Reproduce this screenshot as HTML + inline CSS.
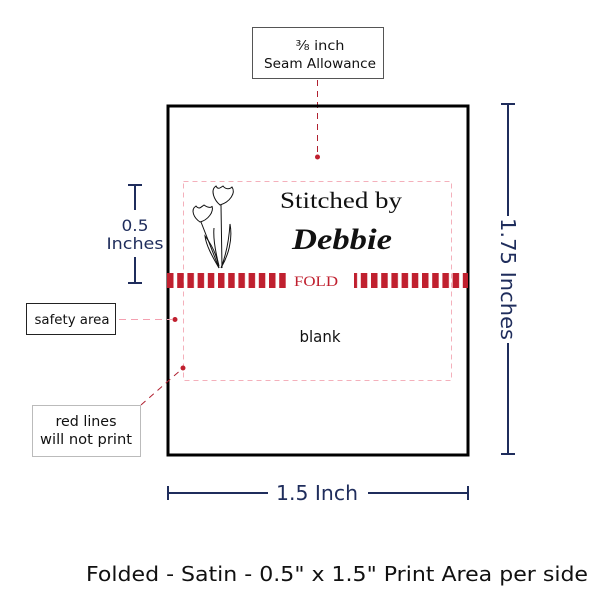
<!DOCTYPE html>
<html><head><style>body{margin:0;background:#fff}svg{display:block}</style></head>
<body>
<svg width="600" height="600" viewBox="0 0 600 600" xmlns="http://www.w3.org/2000/svg" font-family="DejaVu Sans, Liberation Sans, sans-serif">
<defs>
<pattern id="st" x="167" y="0" width="10.2" height="20" patternUnits="userSpaceOnUse"><rect x="0" y="0" width="6.5" height="20" fill="#c0202f"/></pattern>
</defs>
<!-- seam allowance box -->
<rect x="252.5" y="27.5" width="131" height="51" fill="#fff" stroke="#555" stroke-width="1"/>
<text x="320" y="50" font-size="13" text-anchor="middle" fill="#111" textLength="49" lengthAdjust="spacingAndGlyphs">⅜ inch</text>
<text x="320" y="68" font-size="13" text-anchor="middle" fill="#111" textLength="112" lengthAdjust="spacingAndGlyphs">Seam Allowance</text>
<line x1="317.5" y1="80" x2="317.5" y2="156" stroke="#b02030" stroke-width="1" stroke-dasharray="6,5"/>
<circle cx="317.5" cy="157" r="2.5" fill="#c0202f"/>
<!-- main rect -->
<rect x="168" y="106" width="300" height="349" fill="none" stroke="#000" stroke-width="3"/>
<!-- safety dashed -->
<rect x="183.5" y="181.5" width="268" height="199" fill="none" stroke="#f4b0bb" stroke-width="1" stroke-dasharray="5,4"/>
<!-- fold stripes -->
<rect x="167" y="273" width="122" height="15" fill="url(#st)"/>
<rect x="354" y="273" width="114" height="15" fill="url(#st)"/>
<text x="316" y="286" font-size="15" text-anchor="middle" fill="#c0202f" font-family="Liberation Serif, serif" textLength="44" lengthAdjust="spacingAndGlyphs">FOLD</text>
<!-- text -->
<text x="341" y="208" font-size="23" text-anchor="middle" fill="#111" font-family="Liberation Serif, serif" textLength="122" lengthAdjust="spacingAndGlyphs">Stitched by</text>
<text x="342" y="249" font-size="30" text-anchor="middle" fill="#111" font-family="Liberation Serif, serif" font-style="italic" font-weight="bold" textLength="100" lengthAdjust="spacingAndGlyphs">Debbie</text>
<text x="320" y="342" font-size="16" text-anchor="middle" fill="#111" textLength="41" lengthAdjust="spacingAndGlyphs">blank</text>
<!-- tulip -->
<g fill="none" stroke="#111" stroke-width="1">
<path d="M220 205 C214 200 210 190 216 186 C218 190 220 188 223 186 C226 190 230 189 232 187 C236 193 230 202 220 205Z"/>
<path d="M200 222 C194 218 190 210 196 206 C199 210 201 207 204 205 C208 208 212 208 212 206 C214 212 208 220 200 222Z"/>
<path d="M221 205 L222 268 M201 222 L219 268"/>
<path d="M219 268 C212 256 206 245 205 236 C212 245 217 255 219 268Z"/>
<path d="M221 268 C226 255 229 240 230 224 C233 240 228 256 221 268Z"/>
<path d="M219 266 C215 250 213 238 214 228"/>
</g>
<!-- 0.5 inches -->
<g stroke="#1f2d5c" stroke-width="2"><path d="M128 185h14M135 185v25M135 257v26M128 283h14"/></g>
<text x="135" y="231" font-size="16" text-anchor="middle" fill="#1f2d5c" textLength="27" lengthAdjust="spacingAndGlyphs">0.5</text>
<text x="135" y="249" font-size="16" text-anchor="middle" fill="#1f2d5c" textLength="57" lengthAdjust="spacingAndGlyphs">Inches</text>
<!-- safety area -->
<rect x="26.5" y="303.5" width="89" height="31" fill="#fff" stroke="#222" stroke-width="1"/>
<text x="72" y="324" font-size="13" text-anchor="middle" fill="#111" textLength="75" lengthAdjust="spacingAndGlyphs">safety area</text>
<line x1="119" y1="319.5" x2="172" y2="319.5" stroke="#f4a0b0" stroke-width="1" stroke-dasharray="7,5"/>
<circle cx="175" cy="319.5" r="2.5" fill="#c0202f"/>
<!-- red lines -->
<rect x="32.5" y="405.5" width="108" height="51" fill="#fff" stroke="#bbb" stroke-width="1"/>
<text x="86" y="426" font-size="14" text-anchor="middle" fill="#111" textLength="61" lengthAdjust="spacingAndGlyphs">red lines</text>
<text x="86" y="444" font-size="14" text-anchor="middle" fill="#111" textLength="92" lengthAdjust="spacingAndGlyphs">will not print</text>
<line x1="141" y1="405" x2="183" y2="368" stroke="#b02030" stroke-width="1" stroke-dasharray="6,5"/>
<circle cx="183" cy="368" r="2.5" fill="#c0202f"/>
<!-- right dim -->
<g stroke="#1f2d5c" stroke-width="2"><path d="M501 104h14M508 104v112M508 343v111M501 454h14"/></g>
<text transform="translate(501 279) rotate(90)" font-size="20" text-anchor="middle" fill="#1f2d5c" textLength="122" lengthAdjust="spacingAndGlyphs">1.75 Inches</text>
<!-- bottom dim -->
<g stroke="#1f2d5c" stroke-width="2"><path d="M168 486v14M168 493h100M368 493h100M468 486v14"/></g>
<text x="317" y="500" font-size="20" text-anchor="middle" fill="#1f2d5c" textLength="82" lengthAdjust="spacingAndGlyphs">1.5 Inch</text>
<text x="337" y="581" font-size="20" text-anchor="middle" fill="#111" textLength="502" lengthAdjust="spacingAndGlyphs">Folded - Satin - 0.5" x 1.5" Print Area per side</text>
</svg>
</body></html>
